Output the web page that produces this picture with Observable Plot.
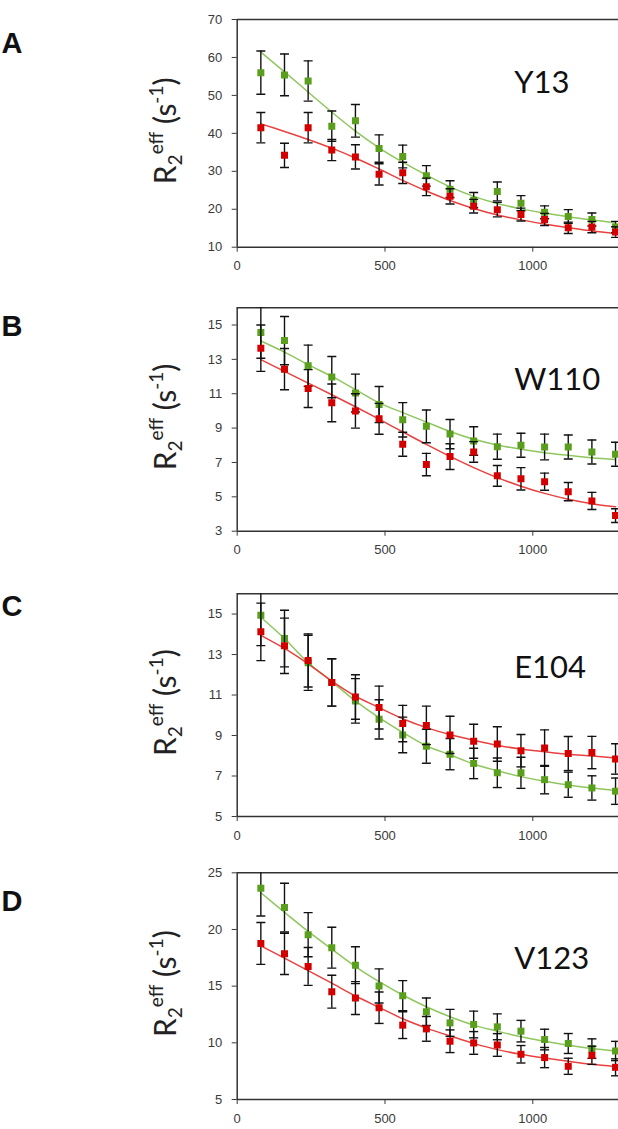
<!DOCTYPE html>
<html><head><meta charset="utf-8">
<script src="https://cdn.jsdelivr.net/npm/d3@7"></script>
<script src="https://cdn.jsdelivr.net/npm/@observablehq/plot@0.6"></script>
<style>
html,body{margin:0;padding:0;background:#fff;overflow:hidden}
#chart{position:relative;width:618px;height:1129px;background:#fff}
#chart svg{position:absolute;left:0}
</style></head><body><div id="chart"></div>
<script>
// ---- data ----
const nu = [80,160,240,320,400,480,560,640,720,800,880,960,1040,1120,1200,1280];
const panelLetters = ["A","B","C","D"];
const residues = ["Y13","W110","E104","V123"];
const yDomains = [[10,70],[3,16],[5,16],[5,25]];
const yTicks = [[10,20,30,40,50,60,70],[3,5,7,9,11,13,15],[5,7,9,11,13,15],[5,10,15,20,25]];
const xTicks = [0,500,1000];
const xMax = 1290;

// Y13
const greenA    = [56.0,55.4,53.8,41.9,43.3,36.0,33.9,28.8,25.3,22.4,24.7,21.6,19.2,18.1,17.3,15.3];
const greenAErr = [5.7,5.5,5.3,4.0,4.3,3.6,3.0,2.7,2.2,2.0,2.5,2.0,1.7,1.8,1.7,1.5];
const redA      = [41.5,34.2,41.5,35.6,33.8,29.2,29.6,25.9,23.4,20.8,19.9,18.6,17.3,15.1,15.3,14.0];
const redAErr   = [4.0,3.2,4.0,2.8,3.2,2.8,2.8,2.3,2.0,1.8,1.9,1.7,1.6,1.5,1.5,1.4];
const greenAFit = [61.4,56.2,50.9,45.6,40.6,36.2,32.4,29.0,25.9,23.4,21.5,20.1,19.0,18.0,17.2,16.4];
const redAFit   = [42.5,40.5,38.4,36.1,33.5,30.6,27.6,24.8,22.3,20.2,18.5,17.2,16.1,15.1,14.3,13.6];

// W110
const greenB    = [14.56,14.09,12.63,11.97,11.04,10.37,9.48,9.10,8.65,8.25,7.92,8.0,7.9,7.9,7.61,7.48];
const greenBErr = [1.5,1.4,1.2,1.2,1.1,1.05,1.0,0.95,0.85,0.83,0.73,0.7,0.75,0.7,0.7,0.7];
const redB      = [13.65,12.43,11.30,10.47,10.0,9.54,8.06,6.88,7.34,7.61,6.22,6.05,5.88,5.30,4.76,3.91];
const redBErr   = [1.35,1.2,1.1,1.1,1.0,0.9,0.7,0.65,0.75,0.6,0.6,0.65,0.5,0.53,0.5,0.4];
const greenBFit = [14.07,13.42,12.69,12.01,11.24,10.47,9.9,9.35,8.8,8.35,8.02,7.77,7.57,7.42,7.28,7.17];
const redBFit   = [12.98,12.30,11.62,10.94,10.24,9.52,8.78,8.05,7.35,6.70,6.12,5.62,5.20,4.86,4.60,4.42];

// E104
const greenC    = [14.94,13.79,12.59,11.62,10.71,9.8,9.03,8.47,8.08,7.62,7.16,7.16,6.82,6.57,6.41,6.25];
const greenCErr = [1.5,1.4,1.36,1.17,1.1,0.97,0.88,0.84,0.77,0.75,0.73,0.77,0.7,0.62,0.6,0.65];
const redC      = [14.12,13.43,12.71,11.62,10.9,10.38,9.59,9.5,9.03,8.72,8.58,8.25,8.38,8.11,8.16,7.84];
const redCErr   = [1.42,1.37,1.31,1.17,1.1,1.06,0.9,0.95,0.92,0.84,0.85,0.8,0.9,0.84,0.8,0.75];
const greenCFit = [14.84,13.79,12.6,11.66,10.71,9.88,9.15,8.49,8.05,7.59,7.26,6.97,6.74,6.56,6.41,6.28];
const redCFit   = [13.95,13.3,12.54,11.69,10.95,10.38,9.83,9.39,9.05,8.77,8.52,8.33,8.2,8.08,7.99,7.89];

// V123
const greenD    = [23.64,21.93,19.54,18.39,16.85,15.02,14.16,12.74,11.76,11.62,11.41,11.03,10.29,9.94,9.49,9.28];
const greenDErr = [2.45,2.15,1.95,1.8,1.63,1.5,1.33,1.21,1.19,1.18,1.14,0.95,0.91,0.88,0.86,0.85];
const redD      = [18.77,17.85,16.74,14.51,13.95,13.1,11.56,11.23,10.14,9.99,9.81,8.99,8.7,7.93,8.9,7.84];
const redDErr   = [1.85,1.82,1.67,1.45,1.45,1.39,1.18,1.09,1.0,1.0,1.0,0.77,0.89,0.71,0.8,0.75];
const greenDFit = [23.24,21.52,19.83,18.27,16.73,15.4,14.22,13.18,12.3,11.56,11.03,10.53,10.14,9.79,9.49,9.28];
const redDFit   = [18.56,17.47,16.37,15.26,14.13,13.13,12.12,11.3,10.6,9.95,9.4,8.99,8.66,8.37,8.1,7.9];

// ---- layout / style ----
const layout = [
  {top:0,   height:280, mt:19,   mb:33.3, letterY:53,   labelDy:73},
  {top:280, height:280, mt:27.3, mb:29.3, letterY:55.5, labelDy:82},
  {top:560, height:290, mt:33.3, mb:34,   letterY:55.5, labelDy:84},
  {top:850, height:279, mt:22.3, mb:30,   letterY:60.5, labelDy:96}
];
const series = [
  [greenA, greenAErr, greenAFit, redA, redAErr, redAFit],
  [greenB, greenBErr, greenBFit, redB, redBErr, redBFit],
  [greenC, greenCErr, greenCFit, redC, redCErr, redCFit],
  [greenD, greenDErr, greenDFit, redD, redDErr, redDFit]
];
const greenPt = "#5a9e1e", greenLn = "#8fc65e", redPt = "#d40000", redLn = "#e8413f";
const axisColor = "#333";
const capSymbol = {draw(ctx, size){ const r = Math.sqrt(size/Math.PI); ctx.moveTo(-r,0); ctx.lineTo(r,0); }};

function errMarks(rows, color){
  return [
    Plot.ruleX(rows, {x:"x", y1:d=>d.y-d.e, y2:d=>d.y+d.e, stroke:"#111", strokeWidth:1.4, clip:true}),
    Plot.dot(rows, {x:"x", y:d=>d.y-d.e, symbol:capSymbol, r:4.5, stroke:"#111", fill:"none", strokeWidth:1.4, clip:true}),
    Plot.dot(rows, {x:"x", y:d=>d.y+d.e, symbol:capSymbol, r:4.5, stroke:"#111", fill:"none", strokeWidth:1.4, clip:true}),
    Plot.dot(rows, {x:"x", y:"y", symbol:"square", r:3.95, fill:color, stroke:null, clip:true})
  ];
}

const chart = document.getElementById("chart");
series.forEach((s, p) => {
  const [g, ge, gf, r, re, rf] = s;
  const L = layout[p];
  const gRows = nu.map((x,i)=>({x, y:g[i], e:ge[i]}));
  const rRows = nu.map((x,i)=>({x, y:r[i], e:re[i]}));
  const gFit = nu.map((x,i)=>({x, y:gf[i]}));
  const rFit = nu.map((x,i)=>({x, y:rf[i]}));
  const yd = yDomains[p];
  const svg = Plot.plot({
    width: 618, height: L.height,
    marginLeft: 236.7, marginRight: 0, marginTop: L.mt, marginBottom: L.mb,
    style: {fontFamily:"Liberation Sans, Arial, sans-serif", fontSize:"13px", color:"#3a3a3a", background:"transparent"},
    x: {domain:[0, xMax], ticks:xTicks, tickFormat:d=>String(d), tickSize:5, tickPadding:9, label:null},
    y: {domain:yd, ticks:yTicks[p], tickFormat:d=>String(d), tickSize:5, tickPadding:10, label:null},
    marks: [
      Plot.ruleY([yd[1]], {stroke:axisColor, strokeWidth:1.5}),
      Plot.line(gFit, {x:"x", y:"y", stroke:greenLn, strokeWidth:1.5, curve:"catmull-rom", clip:true}),
      Plot.line(rFit, {x:"x", y:"y", stroke:redLn, strokeWidth:1.5, curve:"catmull-rom", clip:true}),
      ...errMarks(gRows, greenPt),
      ...errMarks(rRows, redPt),
      Plot.ruleX([0], {stroke:axisColor, strokeWidth:1.5}),
      Plot.ruleY([yd[0]], {stroke:axisColor, strokeWidth:1.5}),
      Plot.text([residues[p]], {frameAnchor:"top-left", dx:277, dy:L.labelDy, textAnchor:"start", lineAnchor:"bottom", fontSize:31, fontFamily:"Lato, sans-serif", fill:"#111"})
    ]
  });
  svg.style.position = "absolute";
  svg.style.top = L.top + "px";
  svg.style.left = "0px";
  chart.appendChild(svg);
  const sel = d3.select(svg);
  // panel letter
  sel.append("text").attr("x", 12).attr("y", L.letterY)
    .attr("font-family","Liberation Sans, Arial, sans-serif").attr("font-weight","bold")
    .attr("font-size", 29).attr("fill","#111").text(panelLetters[p]);
  // y-axis title
  const cy = (L.mt + (L.height - L.mb)) / 2 - 2;
  const t = sel.append("text").attr("transform", `translate(176,${cy}) rotate(-90)`)
    .attr("text-anchor","middle").attr("font-family","Lato, 'Open Sans', sans-serif")
    .attr("font-size", 30).attr("fill","#222");
  t.append("tspan").text("R");
  t.append("tspan").attr("font-size",19).attr("dy",6).text("2");
  t.append("tspan").attr("font-size",19).attr("dy",-19).text("eff");
  t.append("tspan").attr("dy",13).text("\u00a0(s");
  t.append("tspan").attr("font-size",19).attr("dy",-13).text("-1");
  t.append("tspan").attr("dy",13).text(")");
});
</script></body></html>
